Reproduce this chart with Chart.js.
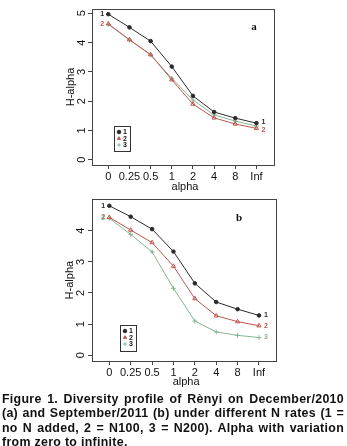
<!DOCTYPE html>
<html>
<head>
<meta charset="utf-8">
<script src="https://cdn.jsdelivr.net/npm/chart.js@4"></script>
<style>
  body { margin: 0; background: #fff; }
  #wrap { position: relative; width: 347px; height: 446px; overflow: hidden; }
  .cv { position: absolute; left: 0; }
  #caption {
    position: absolute; left: 2px; top: 392px; width: 342px;
    font-family: Arial, "Liberation Sans", sans-serif; font-weight: bold; font-size: 12.4px;
    letter-spacing: 0.3px; line-height: 14.4px; color: #111;
  }
  #caption span { display: block; text-align: justify; text-align-last: justify; white-space: nowrap; }
  #caption span.last { text-align-last: left; }
</style>
</head>
<body>
<div id="wrap">
  <div class="cv" style="top:0;width:347px;height:195px"><canvas id="chartA"></canvas></div>
  <div class="cv" style="top:192px;width:347px;height:198px"><canvas id="chartB"></canvas></div>
  <div id="caption">
    <span>Figure 1. Diversity profile of Rènyi on December/2010</span>
    <span>(a) and September/2011 (b) under different N rates (1 =</span>
    <span>no N added, 2 = N100, 3 = N200). Alpha with variation</span>
    <span class="last">from zero to infinite.</span>
  </div>
</div>
<script>
const alphaLabels = ["0", "0.25", "0.5", "1", "2", "4", "8", "Inf"];
const seriesNames = ["1", "2", "3"];

// panel a: December/2010
const decN0 = [4.97, 4.52, 4.05, 3.18, 2.18, 1.63, 1.42, 1.25];
const decN100 = [4.64, 4.10, 3.59, 2.73, 1.90, 1.43, 1.22, 1.07];
const decN200 = [4.62, 4.09, 3.58, 2.78, 2.04, 1.53, 1.32, 1.15];

// panel b: September/2011
const sepN0 = [4.80, 4.45, 4.05, 3.33, 2.31, 1.71, 1.48, 1.28];
const sepN100 = [4.43, 4.02, 3.62, 2.86, 1.82, 1.27, 1.08, 0.95];
const sepN200 = [4.40, 3.88, 3.32, 2.15, 1.10, 0.75, 0.64, 0.57];

const colors = ["#2b2b2b", "#c0554f", "#86b394"];
const markers = ["circle", "triangle", "cross"];
const axisColor = "#444";
const tickFont = "11px Arial, 'Liberation Sans', sans-serif";

const makeSets = (rows) => rows.map((vals, i) => ({
  label: seriesNames[i],
  data: vals.map((v, k) => ({ x: k, y: v })),
  borderColor: colors[i],
  backgroundColor: i === 0 ? colors[i] : "rgba(0,0,0,0)",
  pointBorderColor: colors[i],
  pointStyle: markers[i],
  pointRadius: i === 0 ? 1.8 : 2.4,
  pointBorderWidth: 1,
  borderWidth: 1,
  tension: 0,
}));

// box, rotated y labels, titles, end labels, legend, panel letter
const decorations = {
  id: "decorations",
  afterDraw(chart, args, opts) {
    const c = chart.ctx;
    const a = chart.chartArea;
    const ys = chart.scales.y;
    c.save();
    c.strokeStyle = axisColor;
    c.lineWidth = 1;
    c.strokeRect(Math.round(a.left) + 0.5, Math.round(a.top) + 0.5,
      Math.round(a.right - a.left), Math.round(a.bottom - a.top));

    c.fillStyle = "#111";
    c.font = tickFont;
    c.textAlign = "center";
    c.textBaseline = "middle";
    ys.ticks.forEach((t) => {
      const py = ys.getPixelForValue(t.value);
      c.save();
      c.translate(opts.yLabelX, py);
      c.rotate(-Math.PI / 2);
      c.fillText(String(t.value), 0, 0);
      c.restore();
    });

    c.save();
    c.translate(opts.yTitleX, (a.top + a.bottom) / 2);
    c.rotate(-Math.PI / 2);
    c.fillText("H-alpha", 0, 0);
    c.restore();
    c.fillText("alpha", (a.left + a.right) / 2 + 2, opts.xTitleY);

    // numbers at both ends of each line
    c.font = "bold 7px Arial, 'Liberation Sans', sans-serif";
    chart.data.datasets.forEach((ds, i) => {
      const pts = chart.getDatasetMeta(i).data;
      c.fillStyle = colors[i];
      const first = pts[0], last = pts[pts.length - 1];
      if (opts.leftShow[i]) c.fillText(ds.label, first.x - 6, first.y + opts.leftDy[i]);
      if (opts.rightShow[i]) c.fillText(ds.label, last.x + 7, last.y + opts.rightDy[i]);
    });

    // legend box
    const lg = opts.legend;
    c.strokeStyle = "#333";
    c.strokeRect(lg.x + 0.5, lg.y + 0.5, lg.w, lg.h);
    c.textAlign = "left";
    chart.data.datasets.forEach((ds, i) => {
      const ry = lg.y + 6 + i * 6.5;
      c.strokeStyle = colors[i];
      c.fillStyle = colors[i];
      Chart.helpers.drawPoint(c, { pointStyle: markers[i], radius: 1.8, borderWidth: 1 }, lg.x + 5, ry);
      c.fillStyle = "#111";
      c.fillText(ds.label, lg.x + 9, ry + 0.5);
    });

    c.font = "bold 11px 'Liberation Serif', 'Times New Roman', serif";
    c.fillStyle = "#111";
    c.textAlign = "center";
    c.fillText(opts.letter, opts.letterX, opts.letterY);
    c.restore();
  },
};

const makeChart = (id, rows, cfg) => new Chart(document.getElementById(id), {
  type: "line",
  data: { datasets: makeSets(rows) },
  plugins: [decorations],
  options: {
    responsive: true,
    maintainAspectRatio: false,
    animation: false,
    layout: { padding: { left: 0, top: cfg.padTop, right: cfg.padRight, bottom: 0 } },
    plugins: {
      legend: { display: false },
      tooltip: { enabled: false },
      decorations: cfg.deco,
    },
    scales: {
      x: {
        type: "linear",
        min: cfg.xMin, max: cfg.xMax,
        afterBuildTicks: (s) => { s.ticks = alphaLabels.map((_, k) => ({ value: k })); },
        afterFit: (s) => { s.height = cfg.xHeight; },
        ticks: {
          callback: (v) => alphaLabels[v],
          color: "#111",
          font: { family: "Arial, 'Liberation Sans', sans-serif", size: 11 },
          padding: 1,
          maxRotation: 0, minRotation: 0,
        },
        grid: { drawOnChartArea: false, drawTicks: true, tickLength: 4, color: axisColor },
        border: { display: false },
      },
      y: {
        min: cfg.yMin, max: cfg.yMax,
        afterBuildTicks: (s) => { s.ticks = cfg.yTicks.map((v) => ({ value: v })); },
        afterFit: (s) => { s.width = cfg.yWidth; },
        ticks: { display: false },
        grid: { drawOnChartArea: false, drawTicks: true, tickLength: 4, color: axisColor },
        border: { display: false },
      },
    },
  },
});

makeChart("chartA", [decN0, decN100, decN200], {
  padTop: 9, padRight: 73, xHeight: 30, yWidth: 92,
  xMin: -0.77, xMax: 7.83, yMin: -0.18, yMax: 5.147,
  yTicks: [0, 1, 2, 3, 4, 5],
  deco: {
    yLabelX: 82, yTitleX: 71, xTitleY: 187,
    leftShow: [true, true, false], leftDy: [0, 0, 0],
    rightShow: [true, true, false], rightDy: [-1, 1.5, 0],
    legend: { x: 114, y: 126, w: 16, h: 25 },
    letter: "a", letterX: 254, letterY: 27,
  },
});

makeChart("chartB", [sepN0, sepN100, sepN200], {
  padTop: 7.3, padRight: 70.7, xHeight: 29, yWidth: 92,
  xMin: -0.81, xMax: 7.81, yMin: -0.183, yMax: 5.008,
  yTicks: [0, 1, 2, 3, 4],
  deco: {
    yLabelX: 81, yTitleX: 70, xTitleY: 189.7,
    leftShow: [true, true, true], leftDy: [0, 0, 0],
    rightShow: [true, true, true], rightDy: [0, 0, 0],
    legend: { x: 120, y: 133, w: 16, h: 26 },
    letter: "b", letterX: 239, letterY: 25.7,
  },
});
</script>
</body>
</html>
